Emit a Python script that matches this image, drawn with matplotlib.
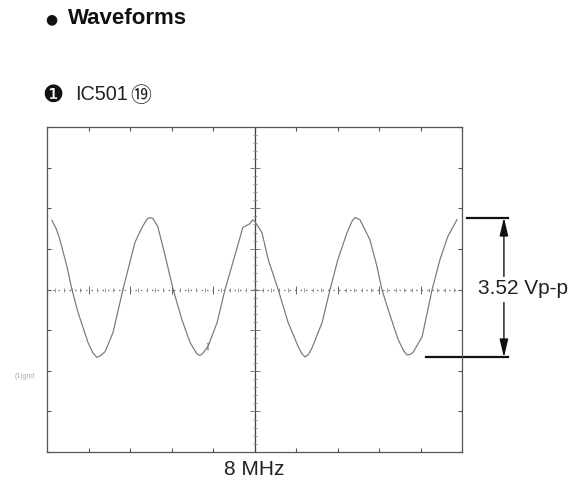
import numpy as np
import matplotlib.pyplot as plt

# waveform, in graticule divisions
# (x: 0..10 left to right, y: -4..4 with 0 on the centre line)
wave_x = [0.12, 0.22, 0.31, 0.48, 0.60, 0.75, 0.99, 1.10, 1.20, 1.30, 1.40,
          1.59, 1.83, 2.12, 2.29, 2.41, 2.48, 2.55, 2.67, 2.84, 3.04, 3.25,
          3.45, 3.61, 3.67, 3.73, 3.88, 4.10, 4.29, 4.48, 4.72, 4.89, 4.96,
          5.01, 5.18, 5.33, 5.57, 5.81, 6.05, 6.14, 6.22, 6.30, 6.39, 6.63,
          6.82, 7.01, 7.23, 7.35, 7.42, 7.54, 7.78, 7.95, 8.07, 8.22, 8.46,
          8.60, 8.67, 8.75, 8.82, 9.04, 9.28, 9.47, 9.66, 9.88]
wave_y = [1.70, 1.50, 1.23, 0.57, 0.00, -0.57, -1.31, -1.55, -1.67, -1.62, -1.53,
          -1.06, 0.00, 1.16, 1.53, 1.73, 1.77, 1.75, 1.55, 0.86, 0.00, -0.74,
          -1.31, -1.58, -1.62, -1.60, -1.40, -0.81, 0.00, 0.67, 1.53, 1.62, 1.72,
          1.67, 1.40, 0.74, 0.00, -0.81, -1.40, -1.58, -1.66, -1.60, -1.43, -0.81,
          0.00, 0.74, 1.40, 1.68, 1.77, 1.72, 1.23, 0.57, 0.00, -0.49, -1.23,
          -1.52, -1.61, -1.60, -1.55, -1.16, 0.00, 0.74, 1.31, 1.72]

title = "Waveforms"
probe_label = "IC501"
amplitude_label = "3.52 Vp-p"
freq_label = "8 MHz"

plt.rcParams['font.family'] = ['Liberation Sans', 'DejaVu Sans', 'Noto Sans CJK JP']

fig = plt.figure(figsize=(5.88, 4.8), dpi=100)
ax = fig.add_axes([47 / 588, 1 - 452 / 480, 415 / 588, 325 / 480])
ax.set_xlim(0, 10)
ax.set_ylim(-4, 4)

frame_col = '#555555'
for s in ax.spines.values():
    s.set_color(frame_col)
    s.set_linewidth(0.9)
ax.set_xticks(np.arange(0, 11))
ax.set_yticks(np.arange(-4, 5))
ax.tick_params(direction='in', length=3, width=0.8, color=frame_col,
               top=True, right=True, labelbottom=False, labelleft=False)

# centre cross of the graticule
ax.axvline(5, color='#444444', lw=0.9)
minor = np.arange(-4, 4.01, 0.2)
ax.plot(np.full_like(minor, 5), minor, ls='none', marker='_', ms=3,
        mew=0.6, color='#888888')
ax.plot(np.full(9, 5), np.arange(-4, 5), ls='none', marker='_', ms=7,
        mew=0.7, color='#777777')
ax.axhline(0, color='#777777', lw=0.9, ls=(0, (1.2, 3.2)))
hminor = np.arange(0, 10.01, 0.2)
ax.plot(hminor, np.zeros_like(hminor), ls='none', marker='|', ms=2.5,
        mew=0.6, color='#888888')
ax.plot(np.arange(0, 11), np.zeros(11), ls='none', marker='|', ms=6,
        mew=0.7, color='#666666')

# trace
ax.plot(wave_x, wave_y, color='#777777', lw=0.85)
ax.text(3.86, -1.43, 'I', fontsize=7, family='DejaVu Serif', color='#777777',
        ha='center', va='center')

# peak-to-peak annotation
top = max(wave_y)
bot = min(wave_y)
ax.plot([10.12, 11.11], [top, top], color='#111111', lw=1.6, clip_on=False)
ax.plot([9.13, 11.11], [bot, bot], color='#111111', lw=1.6, clip_on=False)
arrow = dict(arrowstyle='-|>,head_length=0.55,head_width=0.13', color='#111111',
             lw=1.0, shrinkA=0, shrinkB=0, mutation_scale=20)
ax.annotate('', xy=(11.01, top), xytext=(11.01, 0.32), arrowprops=arrow,
            annotation_clip=False)
ax.annotate('', xy=(11.01, bot), xytext=(11.01, -0.32), arrowprops=arrow,
            annotation_clip=False)
ax.text(11.47, 0.03, amplitude_label, fontsize=15, color='#222222',
        ha='center', va='center', clip_on=False)

ax.text(5, -4.2, freq_label, fontsize=15, color='#222222',
        ha='center', va='top', clip_on=False)

# faint ground marker left of the screen
fig.text(25 / 588, 1 - 377 / 480, '(1)gnd', fontsize=5, color='#aaaaaa',
         ha='center', va='center')

# headings
fig.text(45 / 588, 1 - 19 / 480, '\u25cf', fontsize=10, color='#111111',
         ha='left', va='center', family=['DejaVu Sans'])
fig.text(68 / 588, 1 - 18 / 480, title, fontsize=16, fontweight='bold',
         color='#111111', ha='left', va='center')
fig.text(42 / 588, 1 - 95 / 480, '\u2776', fontsize=17, color='#111111',
         ha='left', va='center', family=['DejaVu Sans', 'Noto Sans CJK JP'])
fig.text(75 / 588, 1 - 95 / 480, probe_label, fontsize=14.3, color='#222222',
         ha='left', va='center')
fig.text(130 / 588, 1 - 96 / 480, '\u2472', fontsize=15, color='#222222',
         ha='left', va='center', family=['Noto Sans CJK JP', 'DejaVu Sans'])

fig.savefig('out.png', dpi=100)
